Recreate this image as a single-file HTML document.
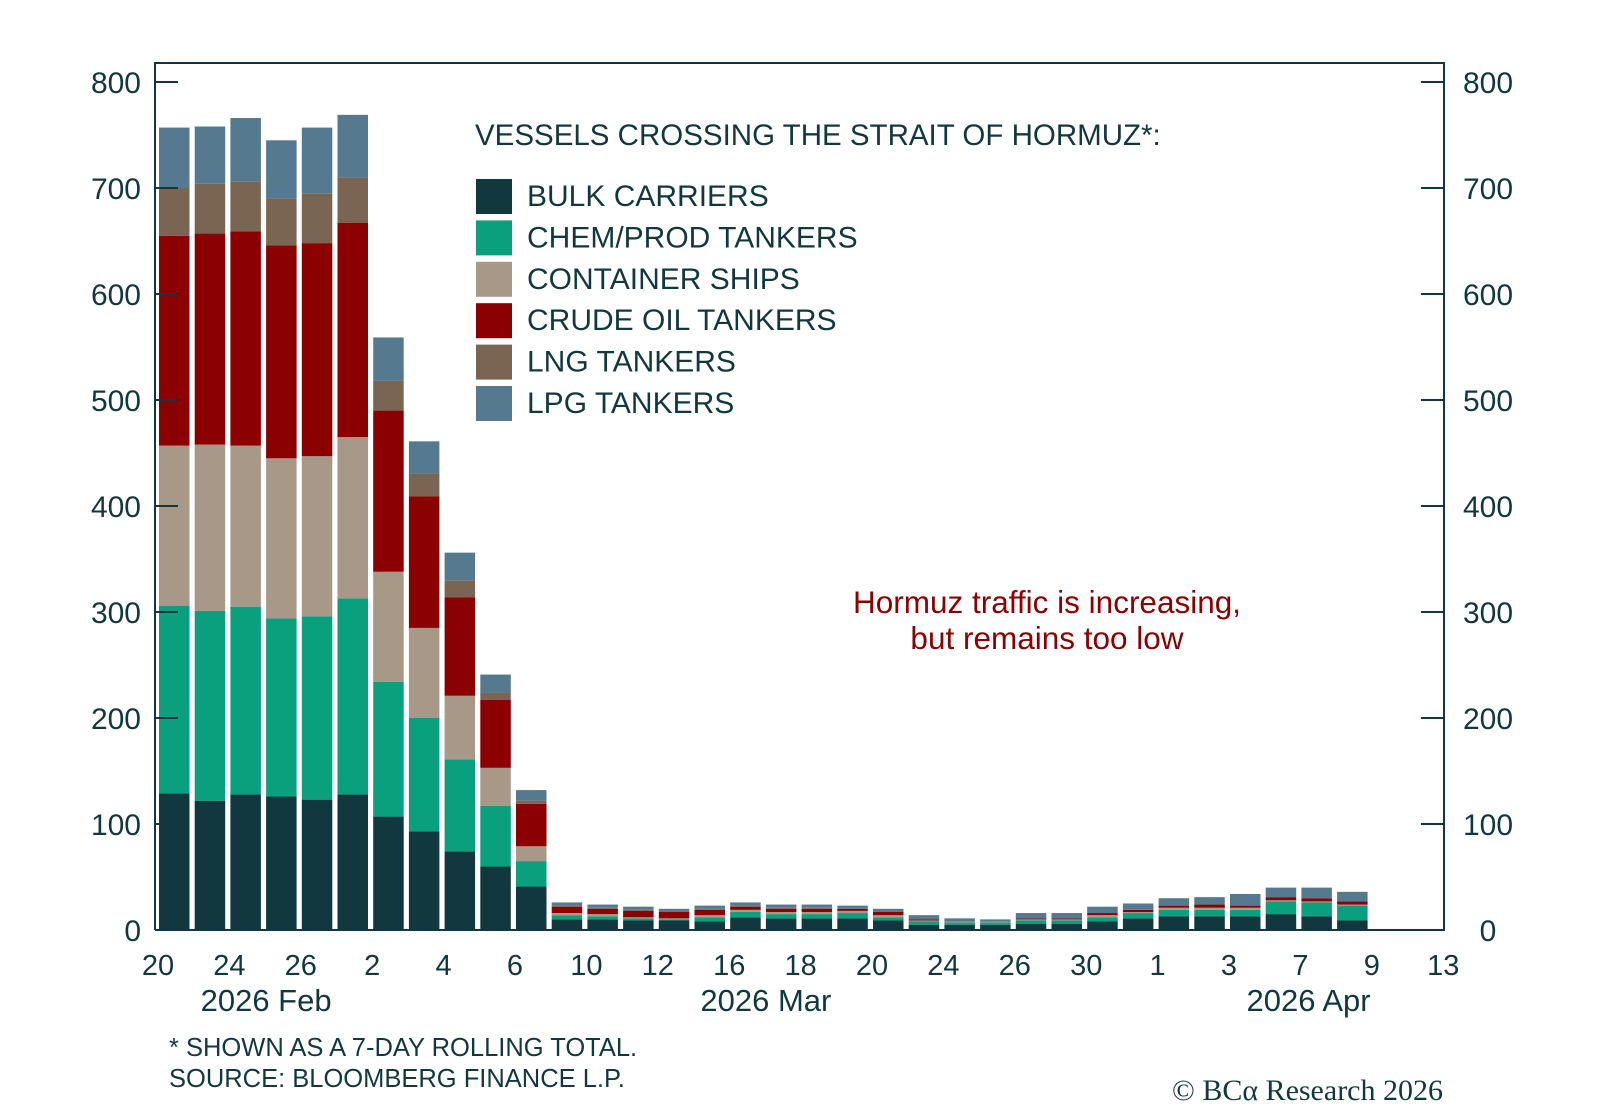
<!DOCTYPE html>
<html><head><meta charset="utf-8"><style>
html,body{margin:0;padding:0;background:#fff;}
svg{display:block;font-family:"Liberation Sans",sans-serif;}
</style></head><body>
<svg id="chart" width="1600" height="1107" viewBox="0 0 1600 1107" xmlns="http://www.w3.org/2000/svg">
<g id="bars"></g>
<g id="axes"></g>
<text x="475" y="145" font-size="29.5" fill="#12383f">VESSELS CROSSING THE STRAIT OF HORMUZ*:</text>
<g id="legend"></g>
<text x="1047" y="613" font-size="31.5" fill="#8b0000" text-anchor="middle">Hormuz traffic is increasing,</text>
<text x="1047" y="649" font-size="31.5" fill="#8b0000" text-anchor="middle">but remains too low</text>
<text x="169" y="1056" font-size="25.5" fill="#12383f">* SHOWN AS A 7-DAY ROLLING TOTAL.</text>
<text x="169" y="1087" font-size="25.5" fill="#12383f">SOURCE: BLOOMBERG FINANCE L.P.</text>
<text x="1443" y="1100" font-size="30" fill="#12383f" text-anchor="end" font-family="Liberation Serif, serif">© BCα Research 2026</text>
</svg>
<script>
const bulk =      [129,122,128,126,123,128,107,93,74,60,41,10,10,9,9,8,12,11,11,11,9,5,5,5,6,6,8,11,13,13,13,15,13,9];
const chem =      [177,179,177,168,173,185,127,107,87,57,24,4,3,2,1,4,5,4,4,5,3,3,2,2,3,3,4,5,6,6,6,12,13,14];
const container = [151,157,152,151,151,152,104,85,60,36,14,2,2,1,1,2,2,2,2,2,2,1,1,1,1,1,2,1,2,2,2,1,1,1];
const crude =     [198,199,202,201,201,202,152,124,93,64,40,6,5,6,6,5,3,3,3,2,3,1,0,0,1,1,2,2,2,3,2,3,3,3];
const lng =       [45,47,47,44,47,43,28,22,16,7,3,1,1,1,0,1,1,1,1,0,0,0,0,0,0,0,0,0,0,0,0,0,0,0];
const lpg =       [57,54,60,55,62,59,41,30,26,17,10,3,3,3,3,3,3,3,3,3,3,4,3,2,5,5,6,6,7,7,11,9,10,9];
const yTicks = [0,100,200,300,400,500,600,700,800];
const xTickLabels = ["20","24","26","2","4","6","10","12","16","18","20","24","26","30","1","3","7","9","13"];
const monthLabels = ["2026 Feb","2026 Mar","2026 Apr"];
const monthBarPos = [3,17,32.2];

const NS="http://www.w3.org/2000/svg";
const X0=159, STEP=35.7, BW=30.5, Y0=930, PPU=1.06;
const L=155, R=1444, T=63;
const colors=["#12383f","#0aa07e","#a89888","#8b0000","#7a6553","#557a90"];
const seriesNames=["bulk-carriers","chem-prod-tankers","container-ships","crude-oil-tankers","lng-tankers","lpg-tankers"];
const legendLabels=["BULK CARRIERS","CHEM/PROD TANKERS","CONTAINER SHIPS","CRUDE OIL TANKERS","LNG TANKERS","LPG TANKERS"];
const series=[bulk,chem,container,crude,lng,lpg];
function xs(i){return X0+STEP*i;}
function ys(v){return Y0-v*PPU;}
function mk(tag,attrs,parent){const e=document.createElementNS(NS,tag);for(const k in attrs)e.setAttribute(k,attrs[k]);parent.appendChild(e);return e;}
const bars=document.getElementById('bars'), axes=document.getElementById('axes'), legend=document.getElementById('legend');
for(let i=0;i<bulk.length;i++){
  let cum=0;
  for(let s=0;s<series.length;s++){
    const v=series[s][i]; if(v<=0)continue;
    const r=mk('rect',{x:xs(i),y:ys(cum+v),width:BW,height:v*PPU,fill:colors[s]},bars);
    
    
    cum+=v;
  }
}
const stroke="#12383f";
const frame=mk('path',{d:`M${L},${Y0}V${T}H${R}V${Y0}H${L}`,fill:"none",stroke:stroke,'stroke-width':2},axes);


yTicks.forEach(v=>{
  const y=ys(v);
  if(v>0){
    const t1=mk('line',{x1:L,x2:L+23,y1:y,y2:y,stroke:stroke,'stroke-width':2},axes);
    
    
    const t2=mk('line',{x1:R-23,x2:R,y1:y,y2:y,stroke:stroke,'stroke-width':2},axes);
    
    
  }
  const a=mk('text',{x:141,y:y+11,'font-size':30,fill:stroke,'text-anchor':'end'},axes);
  a.textContent=v;
  
  
  const b=mk('text',{x:1488,y:y+11,'font-size':30,fill:stroke,'text-anchor':'middle'},axes);
  b.textContent=v;
  
  
});
xTickLabels.forEach((lab,k)=>{
  const t=mk('text',{x:xs(2*k)-1,y:975,'font-size':29,fill:stroke,'text-anchor':'middle'},axes);
  t.textContent=lab;
  
  
});
monthLabels.forEach((lab,k)=>{
  const t=mk('text',{x:xs(monthBarPos[k]),y:1011,'font-size':31,fill:stroke,'text-anchor':'middle'},axes);
  t.textContent=lab;
  
  
});
legendLabels.forEach((lab,k)=>{
  const y=179+41.4*k;
  const sq=mk('rect',{x:476,y:y,width:36,height:35,fill:colors[k]},legend);
  
  
  const t=mk('text',{x:527,y:y+27,'font-size':30,fill:stroke},legend);
  t.textContent=lab;
  
  
});
</script>
</body></html>
